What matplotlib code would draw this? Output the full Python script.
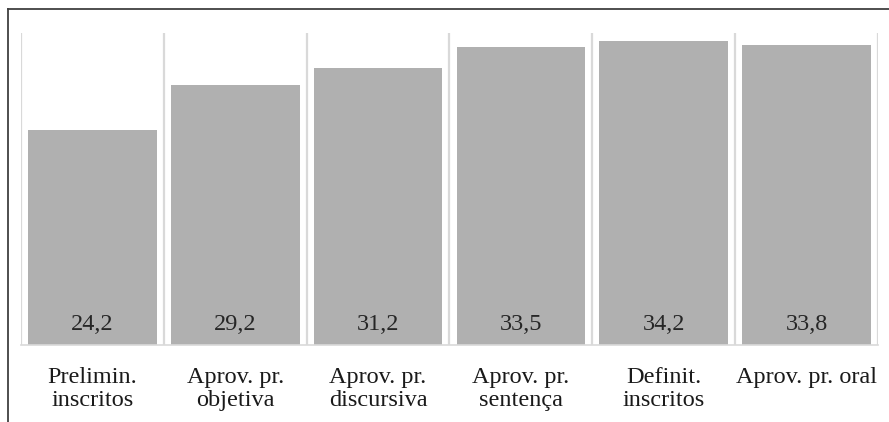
import matplotlib.pyplot as plt
from matplotlib.lines import Line2D

categorias = ['Prelimin.\ninscritos', 'Aprov. pr.\nobjetiva', 'Aprov. pr.\ndiscursiva',
              'Aprov. pr.\nsentença', 'Definit.\ninscritos', 'Aprov. pr. oral']
valores = [24.2, 29.2, 31.2, 33.5, 34.2, 33.8]
rotulos = ['24,2', '29,2', '31,2', '33,5', '34,2', '33,8']

plt.rcParams['font.family'] = ['Liberation Serif', 'DejaVu Serif']

W, H = 889, 422
fig = plt.figure(figsize=(W / 100, H / 100), dpi=100)
ax = fig.add_axes([21 / W, 77 / H, (878 - 21) / W, (345 - 33) / H])

x = range(len(valores))
ax.bar(x, valores, width=0.9, color='#B0B0B0', zorder=2)
for i, (v, r) in enumerate(zip(valores, rotulos)):
    ax.text(i, 1.07, r, ha='center', va='bottom', fontsize=17.5, color='#262626', zorder=3)

# linhas verticais entre categorias
for b in range(len(valores) + 1):
    ax.axvline(b - 0.5, color='#D9D9D9', lw=1.6, zorder=1)

ax.set_xlim(-0.5, len(valores) - 0.5)
ax.set_ylim(0, 35.1)
ax.set_xticks(list(x))
ax.set_xticklabels(categorias, fontsize=17.5, color='#1a1a1a', linespacing=1.13, va='top')
ax.tick_params(axis='x', length=0, pad=15.5)
ax.set_yticks([])
for s in ['top', 'left', 'right']:
    ax.spines[s].set_visible(False)
ax.spines['bottom'].set_color('#D9D9D9')
ax.spines['bottom'].set_linewidth(1.2)

# moldura (esquerda e topo)
fig.add_artist(Line2D([7.5 / W, 7.5 / W], [0, 1 - 9 / H], color='#404040', lw=1.3))
fig.add_artist(Line2D([7.5 / W, 1], [1 - 9 / H, 1 - 9 / H], color='#404040', lw=1.3))

fig.savefig('out.png', dpi=100)
